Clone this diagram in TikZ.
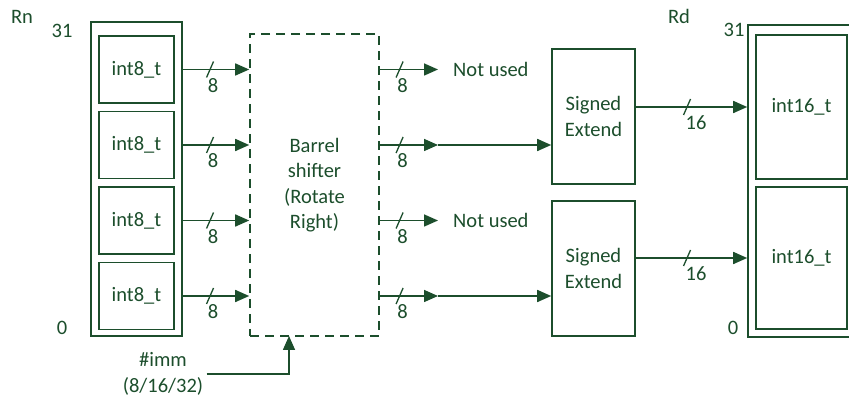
\documentclass[tikz,border=0pt]{standalone}
\usepackage{fontspec}
\setmainfont{Carlito}
\usetikzlibrary{positioning,arrows.meta}
\definecolor{regreen}{RGB}{28,78,44}

\begin{document}
\begin{tikzpicture}[x=1pt, y=-1pt,
  every node/.style={text=regreen, font=\fontsize{20.5}{25.5}\selectfont},
  regbox/.style={rectangle, draw=regreen, line width=1.6pt, inner sep=0pt},
  lane/.style={rectangle, draw=regreen, line width=1.6pt, align=center,
               minimum width=75pt, minimum height=67pt, inner sep=0pt},
  shifter/.style={rectangle, draw=regreen, line width=1.6pt, dash pattern=on 9pt off 6pt,
               align=center, minimum width=129pt, minimum height=302pt},
  extbox/.style={rectangle, draw=regreen, line width=1.6pt, align=center,
               minimum width=83pt, minimum height=135pt},
  arr/.style={draw=regreen, line width=1.6pt, -{Triangle[length=14pt,width=12pt]}},
  busmark/.style={draw=regreen, line width=1.3pt},
  buslabel/.style={anchor=north, inner sep=0pt}
]
\useasboundingbox (0,0) rectangle (849,403);

% source register
\node[regbox, minimum width=91pt, minimum height=314pt] (rn) at (136.5,179) {};
\node (rnname) at (22,17) {Rn};
\node (rnhi) at (62,31) {31};
\node (rnlo) at (62,328) {0};
\foreach \i/\y in {1/69.5,2/145,3/220.5,4/296}
  \node[lane] (b\i) at (136.5,\y) {int8\_t};

% barrel shifter
\node[shifter] (barrel) at (314.5,185) {Barrel\\shifter\\(Rotate\\Right)};
\node[align=center] (imm) at (163,374) {\#imm\\(8/16/32)};
\coordinate (immin) at (289,336);
\draw[arr] (imm.east) -| (immin);

% lanes into the shifter
\foreach \i in {1,...,4} {
  \draw[arr] (rn.east |- b\i) -- coordinate[pos=0.41] (s\i) (barrel.west |- b\i);
  \draw[busmark] ([xshift=-3.5pt,yshift=-8pt]s\i) -- ([xshift=3.5pt,yshift=8pt]s\i);
  \node[buslabel, xshift=3pt, yshift=-8.5pt] at (s\i) {8};
}

% sign extension
\node[extbox] (ext1) at (593.5,116.5) {Signed\\Extend};
\node[extbox] (ext2) at (593.5,268.5) {Signed\\Extend};
\node[anchor=west, inner xsep=15pt] (nu1) at (438,0 |- b1) {Not used};
\node[anchor=west, inner xsep=15pt] (nu3) at (438,0 |- b3) {Not used};
\coordinate (m2) at (438,0 |- b2);
\coordinate (m4) at (438,0 |- b4);

% lanes out of the shifter
\foreach \i/\dst in {1/nu1.west,2/m2,3/nu3.west,4/m4} {
  \draw[arr] (barrel.east |- b\i) -- coordinate[pos=0.34] (t\i) (\dst);
  \draw[busmark] ([xshift=-3.5pt,yshift=-8pt]t\i) -- ([xshift=3.5pt,yshift=8pt]t\i);
  \node[buslabel, xshift=3pt, yshift=-8.5pt] at (t\i) {8};
}
\draw[arr] (m2) -- (ext1.west |- m2);
\draw[arr] (m4) -- (ext2.west |- m4);

% destination register
\node[regbox, minimum width=108pt, minimum height=312pt] (rd) at (802,181) {};
\node (rdname) at (679,16) {Rd};
\node (rdhi) at (734,30) {31};
\node (rdlo) at (733,328) {0};
\node[lane, minimum width=91pt, minimum height=144pt] (d1) at (801.5,107) {int16\_t};
\node[lane, minimum width=91pt, minimum height=142pt] (d2) at (801.5,258) {int16\_t};

\foreach \i/\src in {1/ext1,2/ext2} {
  \draw[arr] (\src.east |- d\i) -- coordinate[pos=0.46] (u\i) (rd.west |- d\i);
  \draw[busmark] ([xshift=-3.5pt,yshift=-8pt]u\i) -- ([xshift=3.5pt,yshift=8pt]u\i);
  \node[buslabel, xshift=9pt, yshift=-8.5pt] at (u\i) {16};
}
\end{tikzpicture}
\end{document}
